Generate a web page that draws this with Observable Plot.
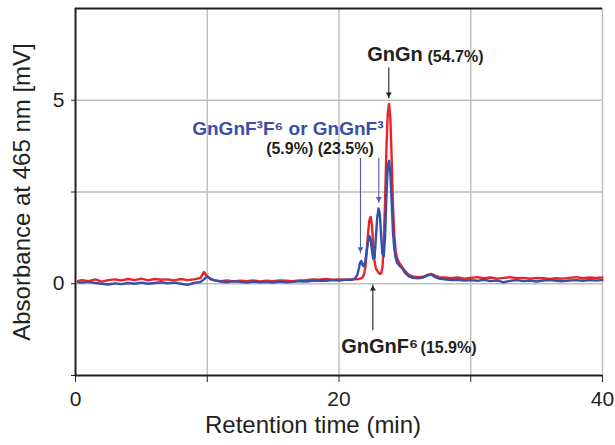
<!DOCTYPE html>
<html>
<head>
<meta charset="utf-8">
<script src="https://cdn.jsdelivr.net/npm/d3@7"></script>
<script src="https://cdn.jsdelivr.net/npm/@observablehq/plot@0.6"></script>
<style>
  html, body { margin: 0; padding: 0; background: #fff; }
  svg { display: block; }
</style>
</head>
<body>
<div id="chart"></div>
<script>
// Retention time (min)
const time = [0.2, 0.5, 1, 1.5, 2, 2.5, 3, 3.5, 4, 4.5, 5, 5.5, 6, 6.5, 7, 7.5, 8, 8.5, 9, 9.5, 9.75, 10, 10.25, 10.5,
  11, 11.5, 12, 12.5, 13, 13.5, 14, 14.5, 15, 15.5, 16, 16.5, 17, 17.5, 18, 18.5, 19, 19.5, 20, 20.5, 21,
  21.2, 21.4, 21.5, 21.6, 21.7, 21.8, 21.9, 22.0, 22.1, 22.2, 22.3, 22.4, 22.5, 22.6, 22.7, 22.8, 22.9, 23.0,
  23.1, 23.2, 23.3, 23.4, 23.5, 23.6, 23.7, 23.8, 23.9, 24.0, 24.1, 24.2, 24.3, 24.4, 24.6, 24.8, 25.0, 25.3,
  25.6, 26.0, 26.4, 26.7, 27.0, 27.3, 27.6, 28, 28.5, 29, 29.5, 30, 30.5, 31, 31.5, 32, 32.5, 33, 33.5, 34,
  34.5, 35, 35.5, 36, 36.5, 37, 37.5, 38, 38.5, 39, 39.5, 40];

// Absorbance at 465 nm [mV], red trace
const redTrace = [0.08, 0.1, 0.07, 0.12, 0.06, 0.1, 0.12, 0.09, 0.13, 0.1, 0.14, 0.09, 0.13, 0.11, 0.12, 0.09, 0.13, 0.1, 0.12, 0.16, 0.32, 0.2, 0.12, 0.1,
  0.07, 0.09, 0.06, 0.08, 0.07, 0.09, 0.06, 0.08, 0.07, 0.09, 0.08, 0.07, 0.09, 0.1, 0.12, 0.11, 0.13, 0.11, 0.12, 0.11, 0.12,
  0.12, 0.13, 0.13, 0.14, 0.15, 0.18, 0.25, 0.45, 0.85, 1.35, 1.72, 1.82, 1.6, 1.05, 0.6, 0.42, 0.36, 0.3,
  0.27, 0.28, 0.45, 1.1, 2.3, 3.7, 4.65, 4.9, 4.5, 3.4, 2.1, 1.3, 0.9, 0.7, 0.55, 0.45, 0.35, 0.24,
  0.2, 0.18, 0.19, 0.24, 0.27, 0.22, 0.18, 0.17, 0.15, 0.17, 0.14, 0.16, 0.18, 0.15, 0.17, 0.14, 0.16, 0.18, 0.15, 0.16,
  0.14, 0.16, 0.15, 0.13, 0.15, 0.14, 0.16, 0.18, 0.15, 0.17, 0.16, 0.17];

// Absorbance at 465 nm [mV], blue trace
const blueTrace = [0.04, 0.03, 0.05, 0.02, 0.0, -0.02, 0.01, -0.01, 0.02, 0.0, 0.03, 0.0, 0.02, 0.04, 0.01, 0.03, 0.0, -0.03, 0.02, 0.05, 0.12, 0.2, 0.14, 0.1,
  0.06, 0.04, 0.07, 0.05, 0.03, 0.06, 0.04, 0.05, 0.03, 0.06, 0.04, 0.05, 0.07, 0.06, 0.08, 0.09, 0.08, 0.1, 0.09, 0.11, 0.11,
  0.14, 0.25, 0.4, 0.58, 0.62, 0.5, 0.48, 0.62, 0.88, 1.15, 1.3, 1.22, 0.9, 0.68, 0.72, 1.25, 1.8, 2.05,
  1.9, 1.3, 0.8, 0.75, 1.3, 2.4, 3.2, 3.35, 3.0, 2.2, 1.4, 0.95, 0.7, 0.58, 0.48, 0.42, 0.3, 0.2,
  0.16, 0.15, 0.17, 0.22, 0.25, 0.18, 0.14, 0.12, 0.1, 0.11, 0.09, 0.1, 0.08, 0.11, 0.07, 0.09, 0.04, 0.08, 0.1, 0.07,
  0.09, 0.06, 0.09, 0.1, 0.08, 0.07, 0.09, 0.1, 0.08, 0.1, 0.09, 0.1];

const xTicks = [0, 10, 20, 30, 40];
const xTickLabels = [0, 20, 40];
const yTicks = [-2.5, 0, 2.5, 5];
const yTickLabels = [0, 5];
const yGrid = [0, 2.5, 5];
const xGrid = [10, 20, 30, 40];

// Peak annotations (arrows): time, start and tip absorbance
const arrowTime = [23.78, 21.63, 23.02, 22.57];
const arrowFrom = [5.9, 3.43, 3.43, -1.27];
const arrowTo = [5.05, 0.83, 2.2, -0.02];
const arrowColor = ["#231f20", "#4a5fb0", "#4a5fb0", "#231f20"];
const arrowDown = [true, true, true, false];

// Peak labels
const labelText = ["GnGn", "(54.7%)", "GnGnF³F⁶ or GnGnF³", "(5.9%) (23.5%)", "GnGnF⁶", "(15.9%)"];
const labelTime = [22.14, 26.72, 8.86, 14.47, 20.17, 26.19];
const labelAbs = [6.06, 6.05, 4.04, 3.53, -1.89, -1.9];
const labelSize = [20, 16, 19, 16, 20, 16];
const labelColor = ["#231f20", "#231f20", "#3b4ea3", "#231f20", "#231f20", "#231f20"];

const redRows = time.map((t, i) => ({t, v: redTrace[i]}));
const blueRows = time.map((t, i) => ({t, v: blueTrace[i]}));
const arrows = arrowTime.map((t, i) => ({t, from: arrowFrom[i], to: arrowTo[i], color: arrowColor[i], down: arrowDown[i]}));
const labels = labelText.map((s, i) => ({s, t: labelTime[i], v: labelAbs[i], size: labelSize[i], color: labelColor[i]}));

const ink = "#231f20";
const gridColor = "#bdbdbd";

const chart = Plot.plot({
  width: 615,
  height: 445,
  marginLeft: 75,
  marginRight: 13,
  marginTop: 8,
  marginBottom: 70,
  x: {domain: [0, 40]},
  y: {domain: [-2.5, 7.5]},
  color: {type: "identity"},
  style: {fontFamily: "'Liberation Sans', Arial, Helvetica, sans-serif", color: ink, background: "#fff"},
  marks: [
    Plot.gridX(xGrid, {stroke: gridColor, strokeOpacity: 1, strokeWidth: 1.4}),
    Plot.gridY(yGrid, {stroke: gridColor, strokeOpacity: 1, strokeWidth: 1.6}),
    Plot.ruleX([0], {stroke: ink, strokeWidth: 2}),
    Plot.ruleY([-2.5, 7.5], {stroke: ink, strokeWidth: 2}),
    Plot.axisX({ticks: xTicks, tickFormat: d => xTickLabels.includes(d) ? String(d) : "", tickSize: 7, tickPadding: 9, fontSize: 21, label: null, stroke: ink}),
    Plot.axisY({ticks: yTicks, tickFormat: d => yTickLabels.includes(d) ? String(d) : "", tickSize: 4, tickPadding: 7, fontSize: 21, label: null, stroke: ink}),
    Plot.line(redRows, {x: "t", y: "v", stroke: "#e8242b", strokeWidth: 2.4, strokeLinejoin: "round"}),
    Plot.line(blueRows, {x: "t", y: "v", stroke: "#3450a8", strokeWidth: 2.4, strokeLinejoin: "round"}),
    Plot.link(arrows, {x1: "t", x2: "t", y1: "from", y2: "to", stroke: "color", strokeWidth: 1.1}),
    Plot.dot(arrows.filter(d => d.down), {x: "t", y: "to", symbol: "triangle2", r: 2.8, rotate: 180, dy: -4.3, fill: "color", stroke: "none"}),
    Plot.dot(arrows.filter(d => !d.down), {x: "t", y: "to", symbol: "triangle2", r: 2.8, rotate: 0, dy: 4.3, fill: "color", stroke: "none"}),
    Plot.text(labels, {x: "t", y: "v", text: "s", fontSize: "size", fill: "color", fontWeight: "bold", textAnchor: "start", lineAnchor: "bottom"}),
    Plot.text(["Retention time (min)"], {frameAnchor: "bottom", textAnchor: "middle", dx: -26, dy: 57, fontSize: 24, fill: ink}),
    Plot.text(["Absorbance at 465 nm [mV]"], {frameAnchor: "left", textAnchor: "middle", dx: -53, rotate: -90, fontSize: 24, fill: ink})
  ]
});
document.getElementById("chart").appendChild(chart);
</script>
</body>
</html>
